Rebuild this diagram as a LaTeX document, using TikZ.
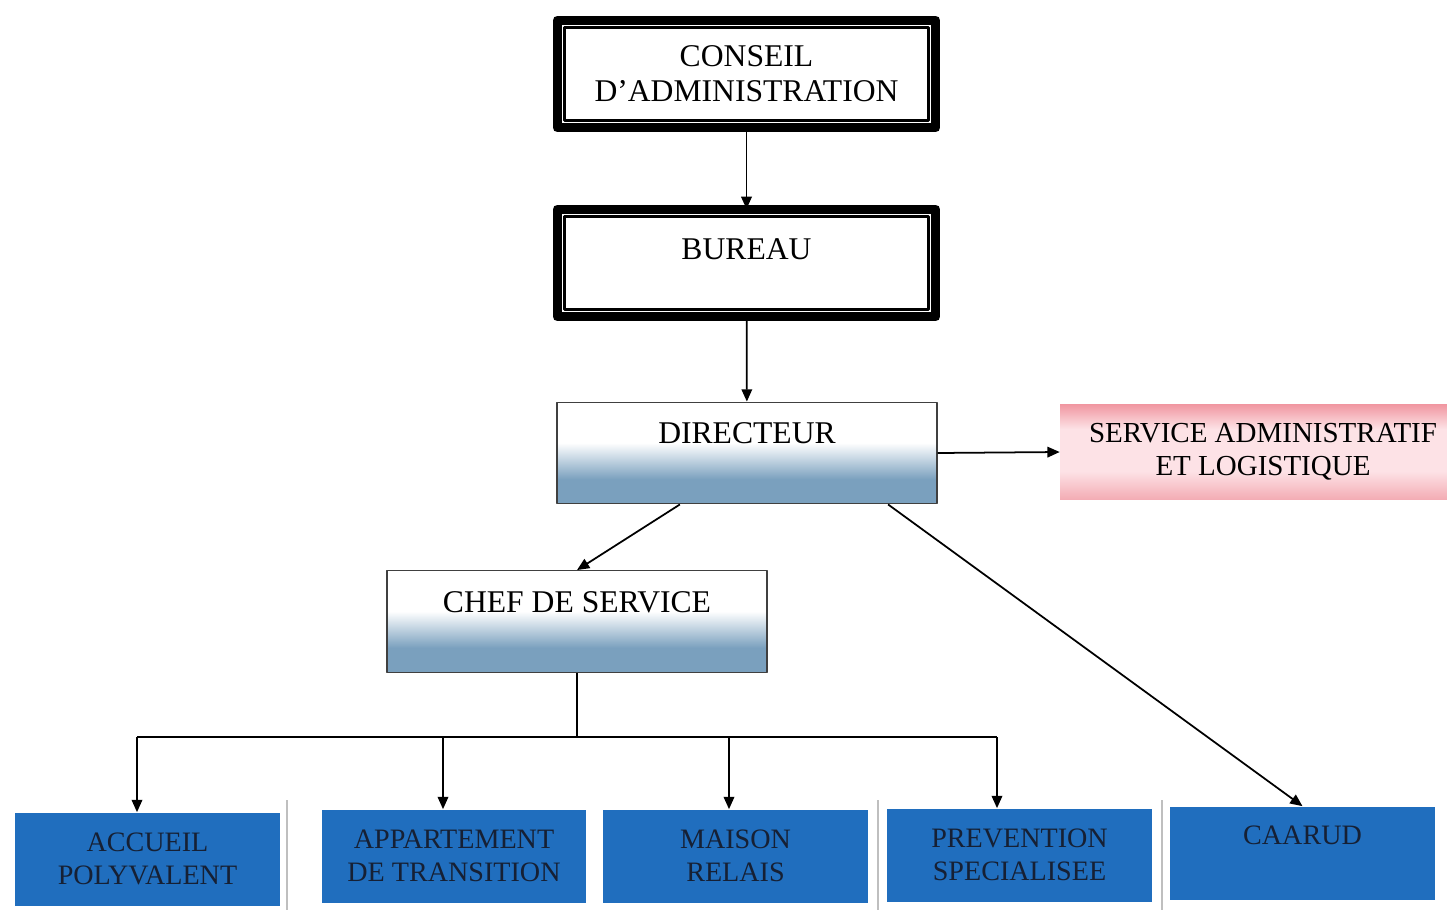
\documentclass[tikz,border=0pt]{standalone}
\usepackage{fontspec}
\setmainfont{Liberation Serif}
\usepackage{tikz}
\usetikzlibrary{positioning, calc, arrows.meta}

\definecolor{dirblue}{RGB}{122,160,190}
\definecolor{unitblue}{RGB}{32,110,190}
\definecolor{unittext}{RGB}{22,32,52}
\definecolor{pinkdark}{RGB}{240,150,160}
\definecolor{pinklight}{RGB}{253,226,230}
\pgfdeclareverticalshading{dirshade}{100bp}{color(0bp)=(dirblue); color(37bp)=(dirblue); color(55bp)=(white); color(100bp)=(white)}
\pgfdeclareverticalshading{salshade}{100bp}{color(0bp)=(pinkdark!80); color(25bp)=(pinkdark!80); color(40bp)=(pinklight); color(62bp)=(pinklight); color(75bp)=(pinkdark); color(100bp)=(pinkdark)}

\tikzset{
  dblbox/.style={draw=black, line width=0.18cm, outer sep=0pt, minimum width=7.58cm, minimum height=2.16cm, align=center, font=\fontsize{18}{20}\selectfont},
  dirbox/.style={draw=black!75, line width=0.8pt, shading=dirshade, minimum width=7.6cm, minimum height=2.03cm, align=center, font=\fontsize{18}{20}\selectfont},
  salbox/.style={shading=salshade, minimum width=8.12cm, minimum height=1.92cm, align=center, font=\fontsize{16.5}{19}\selectfont},
  unitbox/.style={fill=unitblue, text=unittext, minimum width=5.3cm, minimum height=1.86cm, align=center, font=\fontsize{16}{19}\selectfont},
  link/.style={->, line width=1pt, black}
}

\begin{document}
\begin{tikzpicture}[x=0.02cm, y=-0.02cm, >={Triangle[length=7pt, width=6pt]}, line join=round]
             \useasboundingbox (0,0) rectangle (1447,910);
             % board and bureau
             \node[dblbox] (con) at (746.5,74) {CONSEIL\\D'ADMINISTRATION};
             \node[dblbox, text depth=0.56cm] (bur) at (746.5,263) {BUREAU};
             \draw[line width=0.06cm] ([shift={(0.15cm,-0.15cm)}]con.north west) rectangle ([shift={(-0.15cm,0.15cm)}]con.south east);
             \draw[line width=0.06cm] ([shift={(0.15cm,-0.15cm)}]bur.north west) rectangle ([shift={(-0.15cm,0.15cm)}]bur.south east);
             % direction
             \node[dirbox, text depth=0.8cm] (dir) at (747,453) {DIRECTEUR};
             \node[salbox] (sal) at (1263,452) {SERVICE ADMINISTRATIF\\ET LOGISTIQUE};
             \node[dirbox, text depth=0.78cm] (chef) at (577,621.5) {CHEF DE SERVICE};
             % services
             \node[unitbox] (acc) at (147.5,859) {ACCUEIL\\POLYVALENT};
             \node[unitbox] (app) at (454,856) {APPARTEMENT\\DE TRANSITION};
             \node[unitbox] (mai) at (735.5,856) {MAISON\\RELAIS};
             \node[unitbox] (pre) at (1019.5,855) {PREVENTION\\SPECIALISEE};
             \node[unitbox, text depth=0.72cm] (caa) at (1302.5,853) {CAARUD};
             % faint separators between service boxes
             \foreach \x in {287, 878, 1162}
               \draw[black!25, line width=0.6pt] (\x,800) -- (\x,910);
             % links
             \draw[link] (con) -- (bur);
             \draw[link] (bur) -- (dir);
             \draw[link] (dir.east) -- (sal.west);
             \draw[link] ($(dir.south west)!0.324!(dir.south east)$) -- (chef.north);
             \draw[link] ($(dir.south west)!0.87!(dir.south east)$) -- (caa.north);
             % bus under chef de service
             \coordinate (busL) at (137,737);
             \coordinate (busR) at (997,737);
             \draw[line width=1pt] (chef.south) -- (chef.south |- busL);
             \draw[line width=1pt] (busL) -- (busR);
             \foreach \n/\x in {acc/137, app/443, mai/729, pre/997} {
               \coordinate (t) at (\x,737);
               \draw[link] (t) -- (t |- \n.north);
             }
     \end{tikzpicture}
\end{document}
